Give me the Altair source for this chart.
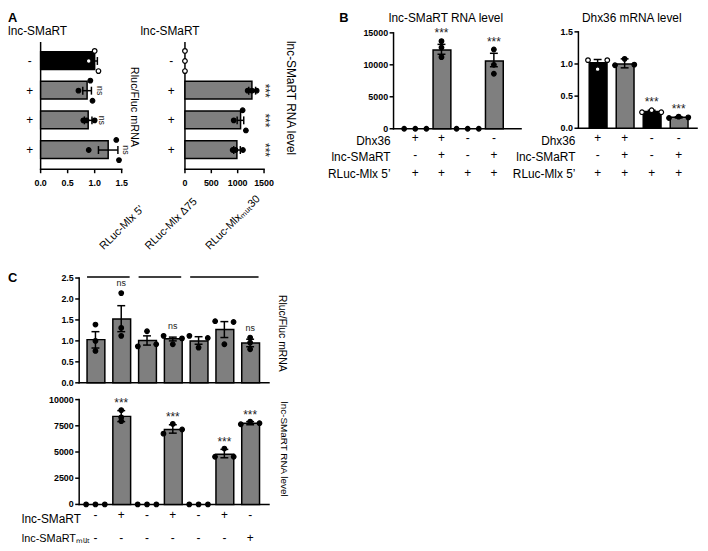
import altair as alt
import pandas as pd

W, H = 700, 543
FONT = "Liberation Sans, Arial, sans-serif"
GRAY = "#7f7f7f"
LANES = ["L", "C", "R"]

# ---------------- Panel A (horizontal bars) ----------------
A_rows = ["r1", "r2", "r3", "r4"]
A_lnc = ["-", "+", "+", "+"]
A_grp = ["ctrl", "exp", "exp", "exp"]
A1_ticks = [0, 0.5, 1.0, 1.5]
A1_mean = [1.00, 0.86, 0.88, 1.25]
A1_lo = [0.95, 0.78, 0.81, 1.07]
A1_hi = [1.05, 0.94, 0.95, 1.43]
A1_dots = [[1.00, 0.89, 1.07], [0.92, 0.70, 0.96], [0.79, 0.85, 1.00], [1.40, 0.89, 1.45]]
A1_lanes = [["L", "C", "R"], ["L", "C", "R"], ["C", "C", "C"], ["L", "C", "R"]]
A1_sig = ["", "ns", "ns", "ns"]
A2_ticks = [0, 500, 1000, 1500]
A2_mean = [0, 1270, 1055, 985]
A2_lo = [None, 1210, 990, 925]
A2_hi = [None, 1340, 1115, 1050]
A2_dots = [[0, 0, 0], [1190, 1270, 1360], [1094, 925, 1156], [905, 960, 1100]]
A2_lanes = [["L", "C", "R"], ["C", "C", "C"], ["L", "C", "R"], ["C", "C", "C"]]
A2_sig = ["", "***", "***", "***"]

# ---------------- Panel B ----------------
B_pos = ["p1", "p2", "p3", "p4"]
B_row_names = ["Dhx36", "lnc-SMaRT", "RLuc-Mlx 5\u2019"]
B_row_signs = [["+", "+", "-", "-"], ["-", "+", "-", "+"], ["+", "+", "+", "+"]]
B1_ticks = [0, 5000, 10000, 15000]
B1_grp = ["exp", "exp", "exp", "exp"]
B1_mean = [0, 12300, 0, 10600]
B1_lo = [None, 11650, None, 9700]
B1_hi = [None, 13200, None, 11800]
B1_dots = [[0, 0, 0], [13700, 12700, 11200], [0, 0, 0], [12400, 10000, 8600]]
B1_lanes = [["L", "C", "R"], ["C", "C", "C"], ["L", "C", "R"], ["C", "C", "C"]]
B1_sig = ["", "***", "", "***"]
B2_ticks = [0, 0.5, 1.0, 1.5]
B2_grp = ["ctrl", "exp", "ctrl", "exp"]
B2_mean = [1.02, 1.00, 0.26, 0.17]
B2_lo = [0.97, 0.94, 0.25, 0.16]
B2_hi = [1.07, 1.08, 0.28, 0.18]
B2_dots = [[1.06, 0.92, 1.06], [0.98, 1.08, 0.99], [0.25, 0.28, 0.25], [0.16, 0.18, 0.17]]
B2_lanes = [["L", "C", "R"]] * 4
B2_sig = ["", "", "***", "***"]

# ---------------- Panel C ----------------
C_pos = ["c1", "c2", "c3", "c4", "c5", "c6", "c7"]
C_row_names = ["lnc-SMaRT", "lnc-SMaRT\u2098\u1d64\u209c"]
C_row_signs = [["-", "+", "-", "+", "-", "+", "-"], ["-", "-", "-", "-", "-", "-", "+"]]
C_groups = ["RLuc-Mlx 5\u2019", "RLuc-Mlx \u039475", "RLuc-Mlx\u2098\u1d64\u209c30"]
C_group_first = ["c1", "c3", "c5"]
C_group_last = ["c2", "c4", "c7"]
C_grp = ["exp"] * 7
C1_ticks = [0, 0.5, 1.0, 1.5, 2.0, 2.5]
C1_mean = [1.03, 1.52, 1.01, 1.05, 1.00, 1.27, 0.95]
C1_lo = [0.83, 1.22, 0.90, 1.00, 0.92, 1.08, 0.86]
C1_hi = [1.22, 1.84, 1.12, 1.09, 1.10, 1.46, 1.04]
C1_dots = [[1.39, 1.00, 0.76], [2.14, 1.31, 1.12], [0.87, 1.23, 0.92], [1.12, 0.92, 1.06],
           [1.12, 0.84, 1.07], [1.47, 0.92, 1.45], [1.08, 0.96, 0.80]]
C1_lanes = [["C", "C", "C"], ["C", "C", "C"], ["L", "C", "R"], ["L", "C", "R"],
            ["L", "C", "R"], ["L", "C", "R"], ["C", "C", "C"]]
C1_sig = ["", "ns", "", "ns", "", "", "ns"]
C2_ticks = [0, 2500, 5000, 7500, 10000]
C2_mean = [0, 8400, 0, 7150, 0, 4780, 7750]
C2_lo = [None, 7900, None, 6800, None, 4450, 7600]
C2_hi = [None, 8950, None, 7600, None, 5250, 7900]
C2_dots = [[0, 0, 0], [9000, 8300, 7950], [0, 0, 0], [6750, 7690, 7150],
           [0, 0, 0], [4550, 5330, 4550], [7650, 7900, 7750]]
C2_lanes = [["L", "C", "R"], ["C", "C", "C"], ["L", "C", "R"], ["L", "C", "R"],
            ["L", "C", "R"], ["L", "C", "R"], ["L", "C", "R"]]
C2_sig = ["", "***", "", "***", "", "***", "***"]

BAR_COLOR = alt.Scale(domain=["ctrl", "exp"], range=["#000000", GRAY])
DOT_FILL = alt.Scale(domain=["ctrl", "exp"], range=["#ffffff", "#000000"])
LINE = dict(color="black", strokeWidth=1.5)


def bar_df(pos, mean, lo, hi, grp, sig, dots):
    top = []
    for i in range(len(pos)):
        vals = [v for v in [hi[i]] + list(dots[i]) if v is not None]
        top.append(max(vals))
    return pd.DataFrame({"pos": pos, "mean": mean, "lo": lo, "hi": hi,
                         "grp": grp, "sig": sig, "top": top})


def dot_df(pos, dots, lanes, grp):
    rows = []
    for i, p in enumerate(pos):
        for v, ln in zip(dots[i], lanes[i]):
            rows.append({"pos": p, "v": v, "lane": ln, "grp": grp[i]})
    return pd.DataFrame(rows)


def bandwidth(n, r0, r1, pin, pout):
    step = abs(r1 - r0) / (n - pin + 2 * pout)
    return step * (1 - pin)


def vpanel(pos, mean, lo, hi, grp, sig, dots, lanes, xr, pin, pout, align,
           ticks, yr, yfmt, lane_sp, sig_size, sig_dy, sign_rows):
    bw = bandwidth(len(pos), xr[0], xr[1], pin, pout)
    xs = alt.Scale(domain=pos, range=list(xr), paddingInner=pin, paddingOuter=pout, align=align)
    ys = alt.Scale(domain=[ticks[0], ticks[-1]], range=list(yr), nice=False, zero=False)
    xo = alt.Scale(domain=LANES, range=[bw / 2 - 1.5 * lane_sp, bw / 2 + 1.5 * lane_sp],
                   paddingInner=0, paddingOuter=0)
    bdf = bar_df(pos, mean, lo, hi, grp, sig, dots)
    ddf = dot_df(pos, dots, lanes, grp)
    xn = alt.X("pos:N", scale=xs, axis=None)
    layers = []
    # axes drawn through the panel scales
    X0 = xr[0]
    adf = pd.DataFrame({"a": [ticks[0]], "b": [ticks[-1]]})
    tdf = pd.DataFrame({"t": ticks})
    layers.append(alt.Chart(adf).mark_rule(strokeCap="square", **LINE).encode(
        x=alt.value(X0), y=alt.Y("a:Q", scale=ys, axis=None), y2="b:Q"))
    layers.append(alt.Chart(adf).mark_rule(strokeCap="square", **LINE).encode(
        x=alt.value(X0), x2=alt.value(xr[1]), y=alt.Y("a:Q", scale=ys, axis=None)))
    layers.append(alt.Chart(tdf).mark_rule(**LINE).encode(
        x=alt.value(X0 - 4), x2=alt.value(X0), y=alt.Y("t:Q", scale=ys, axis=None)))
    layers.append(alt.Chart(tdf).mark_text(font=FONT, fontSize=9, fontWeight="bold", align="right",
                                           baseline="middle", color="black").encode(
        x=alt.value(X0 - 5.5), y=alt.Y("t:Q", scale=ys, axis=None),
        text=alt.Text("t:Q", format=yfmt)))
    bars = alt.Chart(bdf).transform_filter("datum.mean > 0").mark_bar(
        stroke="black", strokeWidth=1.5, opacity=1).encode(
        x=xn, y=alt.Y("mean:Q", scale=ys, axis=None),
        color=alt.Color("grp:N", scale=BAR_COLOR, legend=None))
    eb = alt.Chart(bdf).transform_filter("isValid(datum.lo)")
    err = eb.mark_rule(**LINE).encode(x=xn, y=alt.Y("lo:Q", scale=ys, axis=None), y2="hi:Q")
    cap_lo = eb.mark_tick(color="black", thickness=1.5, size=8, opacity=1).encode(
        x=xn, y=alt.Y("lo:Q", scale=ys, axis=None))
    cap_hi = eb.mark_tick(color="black", thickness=1.5, size=8, opacity=1).encode(
        x=xn, y=alt.Y("hi:Q", scale=ys, axis=None))
    pts = alt.Chart(ddf).mark_circle(size=22, stroke="black", strokeWidth=1.2, opacity=1).encode(
        x=xn, xOffset=alt.XOffset("lane:N", scale=xo),
        y=alt.Y("v:Q", scale=ys, axis=None),
        fill=alt.Fill("grp:N", scale=DOT_FILL, legend=None))
    sg = alt.Chart(bdf).mark_text(font=FONT, fontSize=sig_size, baseline="alphabetic",
                                  dy=sig_dy, color="#222222").encode(
        x=xn, y=alt.Y("top:Q", scale=ys, axis=None), text="sig:N")
    layers += [bars, err, cap_lo, cap_hi, pts, sg]
    for signs, yy in sign_rows:
        sdf = pd.DataFrame({"pos": pos, "s": signs})
        layers.append(alt.Chart(sdf).mark_text(font=FONT, fontSize=12, baseline="middle",
                                               color="black").encode(
            x=xn, y=alt.value(yy), text="s:N"))
    return alt.layer(*layers), xs


def hpanel(rows, mean, lo, hi, grp, sig, dots, lanes, xr, ticks, xfmt, yr, pin, pout,
           lane_sp, sig_size, sig_dy, sig_fixed, signs, signs_x, axis_y):
    bw = bandwidth(len(rows), yr[0], yr[1], pin, pout)
    xs = alt.Scale(domain=[ticks[0], ticks[-1]], range=list(xr), nice=False, zero=False)
    ys = alt.Scale(domain=rows, range=list(yr), paddingInner=pin, paddingOuter=pout)
    yo = alt.Scale(domain=LANES, range=[bw / 2 - 1.5 * lane_sp, bw / 2 + 1.5 * lane_sp],
                   paddingInner=0, paddingOuter=0)
    bdf = bar_df(rows, mean, lo, hi, grp, sig, dots)
    bdf["sx"] = ticks[-1] if sig_fixed else bdf["top"]
    bdf["sign"] = signs
    ddf = dot_df(rows, dots, lanes, grp)
    yn = alt.Y("pos:N", scale=ys, axis=None)
    adf = pd.DataFrame({"a": [ticks[0]], "b": [ticks[-1]]})
    tdf = pd.DataFrame({"t": ticks})
    layers = [
        alt.Chart(adf).mark_rule(strokeCap="square", **LINE).encode(
            x=alt.value(xr[0]), y=alt.value(yr[0]), y2=alt.value(axis_y)),
        alt.Chart(adf).mark_rule(strokeCap="square", **LINE).encode(
            x=alt.X("a:Q", scale=xs, axis=None), x2="b:Q", y=alt.value(axis_y)),
        alt.Chart(tdf).mark_rule(**LINE).encode(
            x=alt.X("t:Q", scale=xs, axis=None), y=alt.value(axis_y), y2=alt.value(axis_y + 4)),
        alt.Chart(tdf).mark_text(font=FONT, fontSize=9, fontWeight="bold", baseline="middle",
                                 color="black").encode(
            x=alt.X("t:Q", scale=xs, axis=None), y=alt.value(axis_y + 14),
            text=alt.Text("t:Q", format=xfmt)),
    ]
    bars = alt.Chart(bdf).transform_filter("datum.mean > 0").mark_bar(
        stroke="black", strokeWidth=1.5, opacity=1).encode(
        y=yn, x=alt.X("mean:Q", scale=xs, axis=None),
        color=alt.Color("grp:N", scale=BAR_COLOR, legend=None))
    eb = alt.Chart(bdf).transform_filter("isValid(datum.lo)")
    err = eb.mark_rule(**LINE).encode(y=yn, x=alt.X("lo:Q", scale=xs, axis=None), x2="hi:Q")
    cap_lo = eb.mark_tick(color="black", thickness=1.5, size=8, opacity=1).encode(
        y=yn, x=alt.X("lo:Q", scale=xs, axis=None))
    cap_hi = eb.mark_tick(color="black", thickness=1.5, size=8, opacity=1).encode(
        y=yn, x=alt.X("hi:Q", scale=xs, axis=None))
    pts = alt.Chart(ddf).mark_circle(size=22, stroke="black", strokeWidth=1.2, opacity=1).encode(
        y=yn, yOffset=alt.YOffset("lane:N", scale=yo),
        x=alt.X("v:Q", scale=xs, axis=None),
        fill=alt.Fill("grp:N", scale=DOT_FILL, legend=None))
    sg = alt.Chart(bdf).mark_text(font=FONT, fontSize=sig_size, baseline="alphabetic", angle=90,
                                  dy=sig_dy, color="#222222").encode(
        y=yn, x=alt.X("sx:Q", scale=xs, axis=None), text="sig:N")
    lab = alt.Chart(bdf).mark_text(font=FONT, fontSize=12, baseline="middle", color="black").encode(
        y=yn, x=alt.value(signs_x), text="sign:N")
    layers += [bars, err, cap_lo, cap_hi, pts, sg, lab]
    return alt.layer(*layers)


def txt(s, x, y, size=12, align="center", baseline="middle", angle=0, weight="normal"):
    kw = dict(font=FONT, fontSize=size, align=align, baseline=baseline, fontWeight=weight,
              color="black")
    if angle:
        kw["angle"] = angle
    return alt.Chart(pd.DataFrame({"t": [s]})).mark_text(**kw).encode(
        x=alt.value(x), y=alt.value(y), text="t:N")


A_yr = (32, 159)
pA1 = hpanel(A_rows, A1_mean, A1_lo, A1_hi, A_grp, A1_sig, A1_dots, A1_lanes,
             (33, 115), A1_ticks, ".1f", A_yr, 0.37, 0.3,
             6.8, 9, -4.5, False, A_lnc, 22, 160)
pA2 = hpanel(A_rows, A2_mean, A2_lo, A2_hi, A_grp, A2_sig, A2_dots, A2_lanes,
             (179, 259), A2_ticks, "d", A_yr, 0.37, 0.3,
             6.8, 12, 3, True, A_lnc, 165, 160)

B_signs_y = [128, 146, 164]
B_labels_y = [131, 148, 165]
pB1, _ = vpanel(B_pos, B1_mean, B1_lo, B1_hi, B1_grp, B1_sig, B1_dots, B1_lanes,
                (390, 519), 0.358, 0.613, 0.415, B1_ticks, (119, 22), "d",
                7.5, 12, -4, list(zip(B_row_signs, B_signs_y)))
pB2, _ = vpanel(B_pos, B2_mean, B2_lo, B2_hi, B2_grp, B2_sig, B2_dots, B2_lanes,
                (577, 697), 0.377, 0.385, 0.52, B2_ticks, (118.5, 21), ".1f",
                6.5, 12, -4, list(zip(B_row_signs, B_signs_y)))

pC1, xsC = vpanel(C_pos, C1_mean, C1_lo, C1_hi, C_grp, C1_sig, C1_dots, C1_lanes,
                  (72, 264), 0.348, 0.355, 0.43, C1_ticks, (376, 270), ".1f",
                  6.2, 9, -7, [])
pC2, _ = vpanel(C_pos, C2_mean, C2_lo, C2_hi, C_grp, C2_sig, C2_dots, C2_lanes,
                (72, 264), 0.348, 0.355, 0.43, C2_ticks, (499, 393), "d",
                6.3, 12, -3, [(C_row_signs[0], 510), (C_row_signs[1], 533)])

gdf = pd.DataFrame({"g0": C_group_first, "g1": C_group_last, "name": C_groups})
glines = alt.Chart(gdf).mark_rule(**LINE).encode(
    x=alt.X("g0:N", scale=xsC, axis=None, bandPosition=0),
    x2=alt.X2("g1:N", bandPosition=1),
    y=alt.value(269))
glabels = []
for i, sx in enumerate([8.5, 2.3, 11.2]):
    d = sx * 0.7071
    glabels.append(alt.Chart(gdf.iloc[[i]]).mark_text(
        font=FONT, fontSize=11, angle=315, align="left", baseline="alphabetic",
        dx=d, dy=d, color="black").encode(
        x=alt.X("g0:N", scale=xsC, axis=None), y=alt.value(242), text="name:N"))
pC1 = alt.layer(pC1, glines, *glabels)

annot = [
    txt("A", 0, 1, 13, "left", "top", weight="bold"),
    txt("B", 335, 1, 13, "left", "top", weight="bold"),
    txt("C", 0, 270, 13, "left", "middle", weight="bold"),
    txt("lnc-SMaRT", 0, 20, 12, "left"),
    txt("lnc-SMaRT", 134, 20, 12, "left"),
    txt("Rluc/Fluc mRNA", 127, 97, 11, angle=90),
    txt("lnc-SMaRT RNA level", 286, 88, 12, angle=90),
    txt("lnc-SMaRT RNA level", 443, 7, 12),
    txt("Dhx36 mRNA level", 631, 7, 12),
    txt("Rluc/Fluc mRNA", 277, 326, 10.5, angle=90),
    txt("lnc-SMaRT RNA level", 279, 443, 10, angle=90),
    txt(C_row_names[0], 14, 514, 12, "left"),
    txt(C_row_names[1], 14, 534, 11, "left"),
]
for name, yy in zip(B_row_names, B_labels_y):
    annot.append(txt(name, 387, yy, 12, "right"))
    annot.append(txt(name, 574, yy, 12, "right"))

chart = alt.layer(pA1, pA2, pB1, pB2, pC1, pC2, *annot).resolve_scale(
    x="independent", y="independent", xOffset="independent", yOffset="independent"
).properties(
    width=W, height=H, autosize=alt.AutoSizeParams(type="none"), padding=0
).configure_view(strokeWidth=0)

chart.save("out.html", embed_options={"renderer": "svg", "actions": False})
